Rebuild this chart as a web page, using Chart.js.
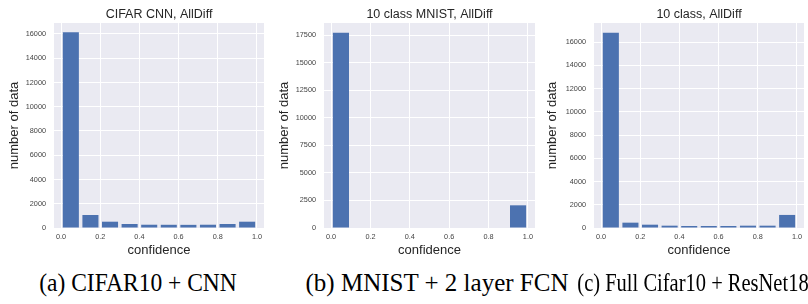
<html>
<head>
<script src="https://cdn.jsdelivr.net/npm/chart.js@4.4.0/dist/chart.umd.min.js"></script>
<style type="text/css">
    body { margin:0; width:808px; height:304px; overflow:hidden; background:#fff; position:relative; }
    canvas { position:absolute; top:0; }
    .cap { position:absolute; top:269px; font-family:"Liberation Serif", serif; font-size:25px; color:#000; white-space:nowrap; }
</style>
</head>

<body>
    <canvas id="chartA" width="270" height="258" style="left:0px"></canvas>
    <canvas id="chartB" width="270" height="258" style="left:270px"></canvas>
    <canvas id="chartC" width="270" height="258" style="left:538px"></canvas>
    <div class="cap" id="capA"></div>
    <div class="cap" id="capB"></div>
    <div class="cap" id="capC"></div>
<script>
    // histogram bins (centre of each 0.1 wide bin)
    var binCenters = [0.05, 0.15, 0.25, 0.35, 0.45, 0.55, 0.65, 0.75, 0.85, 0.95];
    var xTicks = [0, 0.2, 0.4, 0.6, 0.8, 1.0];

    var titles = ["CIFAR CNN, AllDiff", "10 class MNIST, AllDiff", "10 class, AllDiff"];
    var captions = ["(a) CIFAR10 + CNN", "(b) MNIST + 2 layer FCN", "(c) Full Cifar10 + ResNet18"];

    var cifarCnnCounts    = [16150, 1070, 520, 330, 270, 265, 260, 270, 330, 520];
    var mnistFcnCounts    = [17745, 0, 0, 0, 0, 0, 0, 0, 0, 2060];
    var cifarResnetCounts = [16810, 460, 285, 200, 170, 170, 170, 200, 200, 1125];

    var yTicksA = [0, 2000, 4000, 6000, 8000, 10000, 12000, 14000, 16000];
    var yTicksB = [0, 2500, 5000, 7500, 10000, 12500, 15000, 17500];
    var yTicksC = [0, 2000, 4000, 6000, 8000, 10000, 12000, 14000, 16000];

    var sans = "'Liberation Sans', Arial, sans-serif";

    // axes background + title centred over the plot area
    var bgPlugin = {
        id: 'bg',
        beforeDraw: function(chart) {
            var a = chart.chartArea, ctx = chart.ctx;
            ctx.save();
            ctx.fillStyle = '#EAEAF2';
            ctx.fillRect(a.left, a.top, a.right - a.left, a.bottom - a.top);
            ctx.restore();
        },
        afterDraw: function(chart, args, opts) {
            var a = chart.chartArea, ctx = chart.ctx;
            ctx.save();
            ctx.font = '12.5px ' + sans;
            ctx.fillStyle = '#262626';
            ctx.textAlign = 'center';
            ctx.textBaseline = 'middle';
            ctx.fillText(opts.text, (a.left + a.right) / 2, 15);
            ctx.restore();
        }
    };

    function makeChart(id, title, counts, yMax, yTicks, leftW, padRight) {
        return new Chart(document.getElementById(id), {
            type: 'bar',
            data: {
                datasets: [{
                    data: binCenters.map((c, i) => ({x: c, y: counts[i]})),
                    backgroundColor: '#4C72B0',
                    borderWidth: 0,
                    barPercentage: 0.82,
                    categoryPercentage: 1
                }]
            },
            options: {
                responsive: false,
                animation: false,
                devicePixelRatio: 1,
                layout: {padding: {left: 0, right: padRight, top: 23, bottom: 0}},
                plugins: {
                    legend: {display: false},
                    tooltip: {enabled: false},
                    title: {display: false},
                    bg: {text: title}
                },
                scales: {
                    x: {
                        type: 'linear', min: -0.036, max: 1.036, offset: false,
                        grid: {color: '#ffffff', lineWidth: 1, drawTicks: false, offset: false},
                        border: {display: false},
                        ticks: {
                            font: {family: sans, size: 7.3}, color: '#444', padding: 5, maxRotation: 0,
                            callback: v => v.toFixed(1)
                        },
                        afterBuildTicks: s => { s.ticks = xTicks.map(v => ({value: v})); },
                        afterFit: s => { s.height = 30; },
                        title: {
                            display: true, text: 'confidence', color: '#262626',
                            font: {family: sans, size: 13}, padding: {top: 0, bottom: 0}
                        }
                    },
                    y: {
                        min: 0, max: yMax,
                        grid: {color: '#ffffff', lineWidth: 1, drawTicks: false},
                        border: {display: false},
                        ticks: {
                            font: {family: sans, size: 7.3}, color: '#444', padding: 8,
                            callback: v => String(v)
                        },
                        afterBuildTicks: s => { s.ticks = yTicks.map(v => ({value: v})); },
                        afterFit: s => { s.width = leftW; },
                        title: {
                            display: true, text: 'number of data', color: '#262626',
                            font: {family: sans, size: 13}, padding: {top: 6.5, bottom: 0}
                        }
                    }
                }
            },
            plugins: [bgPlugin]
        });
    }

    makeChart('chartA', titles[0], cifarCnnCounts, 16907, yTicksA, 54, 6);
    makeChart('chartB', titles[1], mnistFcnCounts, 18620, yTicksB, 54, 5);
    makeChart('chartC', titles[2], cifarResnetCounts, 17650, yTicksC, 56, 4);

    // sub-figure captions
    var capPos = [138, 437, 693];
    var capScale = [0.94, 1.0, 0.82];
    ['capA', 'capB', 'capC'].forEach(function(id, i) {
        var el = document.getElementById(id);
        el.textContent = captions[i];
        el.style.left = capPos[i] + 'px';
        el.style.transform = 'translateX(-50%) scaleX(' + capScale[i] + ')';
    });
</script>
</body>
</html>
